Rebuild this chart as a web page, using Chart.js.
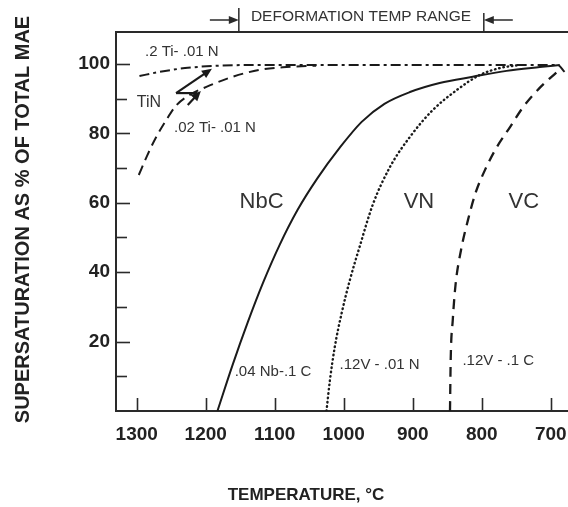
<!DOCTYPE html>
<html><head><meta charset="utf-8">
<script src="https://cdn.jsdelivr.net/npm/chart.js@4.4.1/dist/chart.umd.min.js"></script>
<style>html,body{margin:0;padding:0;background:#fff;overflow:hidden}#wrap{width:568px;height:507px;position:relative}</style>
</head><body><div id="wrap"><canvas id="c" width="568" height="507"></canvas></div>
<script>
// ---- data (temperature °C, supersaturation %) ----
const xTickValues = [1300, 1200, 1100, 1000, 900, 800, 700];
const yTickValues = [10, 20, 30, 40, 50, 60, 70, 80, 90, 100];
const yLabelValues = [20, 40, 60, 80, 100];

const tiHighT = [1296, 1267, 1230, 1191, 1122, 1000, 900, 800, 690, 680];
const tiHighV = [96.5, 97.7, 98.8, 99.4, 99.7, 99.7, 99.7, 99.7, 99.7, 97.7];

const tiLowT = [1297, 1285, 1274, 1257, 1242, 1223, 1199, 1161, 1122, 1083, 1040];
const tiLowV = [68.0, 73.5, 78.1, 83.9, 88.2, 91.1, 93.4, 96.3, 98.3, 99.1, 99.5];

const nbcT = [1183, 1161, 1139, 1117, 1093, 1067, 1038, 1006, 974, 941, 904, 861, 813, 764, 716, 687];
const nbcV = [0, 13.3, 25.6, 36.9, 47.8, 57.9, 67.1, 75.8, 83.3, 88.5, 91.9, 94.5, 96.3, 98.0, 99.1, 99.7];

const vnT = [1025, 1020, 1013, 1003, 991, 977, 958, 933, 904, 871, 836, 803, 774, 745];
const vnV = [0, 8.9, 18.4, 28.2, 37.8, 47.3, 59.4, 70.3, 79.0, 86.7, 92.5, 96.8, 98.8, 99.7];

const vcT = [846, 845, 842, 838, 830, 820, 809, 794, 778, 759, 741, 716, 691];
const vcV = [0, 14.7, 26.2, 36.3, 46.4, 55.0, 62.8, 70.0, 76.1, 81.8, 87.3, 93.1, 97.7];

const deformRange = [1152, 797];

// annotations: [text, T, value, size, align]
const noteTexts = [
  ['.2 Ti- .01 N', 1288, 103.5, 15, 'left'],
  ['TiN', 1300, 89, 16, 'left'],
  ['.02 Ti- .01 N', 1246, 81.5, 15, 'left'],
  ['NbC', 1119, 60.2, 22, 'center'],
  ['VN', 891, 60.2, 22, 'center'],
  ['VC', 739, 60.2, 22, 'center'],
  ['.04 Nb-.1 C', 1158, 11.3, 15, 'left'],
  ['.12V - .01 N', 1006, 13.3, 15, 'left'],
  ['.12V - .1 C', 828, 14.4, 15, 'left']
];
// arrows: [fromT, fromV, toT, toV, head]
const tinArrows = [
  [1243, 91.6, 1191, 98.6, true],
  [1243, 91.6, 1212, 91.6, false],
  [1226, 88.2, 1207, 92.2, true]
];

const FONT = '"Liberation Sans", Arial, Helvetica, sans-serif';
const pts = (T, V) => T.map((t, i) => ({x: t, y: V[i]}));

function arrowHead(ctx, x1, y1, x2, y2, len, w) {
  const a = Math.atan2(y2 - y1, x2 - x1);
  ctx.beginPath();
  ctx.moveTo(x2, y2);
  ctx.lineTo(x2 - len * Math.cos(a) + w * Math.sin(a), y2 - len * Math.sin(a) - w * Math.cos(a));
  ctx.lineTo(x2 - len * Math.cos(a) - w * Math.sin(a), y2 - len * Math.sin(a) + w * Math.cos(a));
  ctx.closePath();
  ctx.fill();
}

const decor = {
  id: 'decor',
  afterDraw(chart) {
    const ctx = chart.ctx, xs = chart.scales.x, ys = chart.scales.y, ca = chart.chartArea;
    ctx.save();
    ctx.strokeStyle = '#2a2a2a';
    ctx.fillStyle = '#2a2a2a';
    ctx.lineWidth = 2;
    // top frame line
    ctx.beginPath(); ctx.moveTo(ca.left - 1, ca.top); ctx.lineTo(ca.right + 2, ca.top); ctx.stroke();
    // inside ticks
    ctx.lineWidth = 1.6;
    xTickValues.forEach(v => {
      const px = Math.round(xs.getPixelForValue(v)) + 0.5;
      ctx.beginPath(); ctx.moveTo(px, ca.bottom); ctx.lineTo(px, ca.bottom - 13); ctx.stroke();
    });
    yTickValues.forEach(v => {
      const py = Math.round(ys.getPixelForValue(v)) + 0.5;
      const len = yLabelValues.includes(v) ? 14 : 11;
      ctx.beginPath(); ctx.moveTo(ca.left, py); ctx.lineTo(ca.left + len, py); ctx.stroke();
    });
    // deformation temp range
    ctx.lineWidth = 1.5;
    const xl = xs.getPixelForValue(deformRange[0]), xr = xs.getPixelForValue(deformRange[1]);
    ctx.beginPath(); ctx.moveTo(xl, 8); ctx.lineTo(xl, ca.top); ctx.stroke();
    ctx.beginPath(); ctx.moveTo(xr, 13); ctx.lineTo(xr, ca.top); ctx.stroke();
    const xlt = xs.getPixelForValue(1194), xrt = xs.getPixelForValue(755);
    ctx.beginPath(); ctx.moveTo(xlt, 20); ctx.lineTo(xl - 6, 20); ctx.stroke();
    arrowHead(ctx, xlt, 20, xl, 20, 10, 4);
    ctx.beginPath(); ctx.moveTo(xrt, 20); ctx.lineTo(xr + 6, 20); ctx.stroke();
    arrowHead(ctx, xrt, 20, xr, 20, 10, 4);
    ctx.fillStyle = '#333';
    ctx.font = '15.5px ' + FONT;
    ctx.textAlign = 'center'; ctx.textBaseline = 'middle';
    ctx.fillText('DEFORMATION TEMP RANGE', xs.getPixelForValue(975), 17);
    // TiN arrows
    ctx.strokeStyle = '#1a1a1a'; ctx.fillStyle = '#1a1a1a'; ctx.lineWidth = 2.2;
    tinArrows.forEach(a => {
      const x1 = xs.getPixelForValue(a[0]), y1 = ys.getPixelForValue(a[1]);
      const x2 = xs.getPixelForValue(a[2]), y2 = ys.getPixelForValue(a[3]);
      ctx.beginPath(); ctx.moveTo(x1, y1);
      if (a[4]) {
        const ang = Math.atan2(y2 - y1, x2 - x1);
        ctx.lineTo(x2 - 6 * Math.cos(ang), y2 - 6 * Math.sin(ang));
      } else ctx.lineTo(x2, y2);
      ctx.stroke();
      if (a[4]) arrowHead(ctx, x1, y1, x2, y2, 10, 4.5);
    });
    // annotation texts
    ctx.fillStyle = '#333';
    noteTexts.forEach(n => {
      ctx.font = n[3] + 'px ' + FONT;
      ctx.textAlign = n[4];
      ctx.textBaseline = 'middle';
      ctx.fillText(n[0], xs.getPixelForValue(n[1]), ys.getPixelForValue(n[2]));
    });
    // axis titles
    ctx.fillStyle = '#222';
    ctx.font = 'bold 17px ' + FONT;
    ctx.textAlign = 'center'; ctx.textBaseline = 'middle';
    ctx.fillText('TEMPERATURE, °C', 306, 495);
    ctx.translate(23, (ca.top + ca.bottom) / 2 - 2);
    ctx.rotate(-Math.PI / 2);
    ctx.font = 'bold 20px ' + FONT;
    ctx.fillText('SUPERSATURATION AS % OF TOTAL MAE', 0, 0);
    ctx.restore();
  }
};

const lineBase = {
  borderColor: '#1a1a1a', borderWidth: 2, pointRadius: 0, fill: false,
  cubicInterpolationMode: 'monotone'
};

new Chart(document.getElementById('c'), {
  type: 'line',
  data: {
    datasets: [
      Object.assign({}, lineBase, {label: '.2 Ti- .01 N', data: pts(tiHighT, tiHighV), borderDash: [10, 4, 3, 4]}),
      Object.assign({}, lineBase, {label: '.02 Ti- .01 N', data: pts(tiLowT, tiLowV), borderDash: [10, 6]}),
      Object.assign({}, lineBase, {label: '.04 Nb-.1 C', data: pts(nbcT, nbcV)}),
      Object.assign({}, lineBase, {label: '.12V - .01 N', data: pts(vnT, vnV), borderDash: [0.5, 3.8], borderCapStyle: 'round', borderWidth: 2.4}),
      Object.assign({}, lineBase, {label: '.12V - .1 C', data: pts(vcT, vcV), borderDash: [10, 7], borderWidth: 2.3})
    ]
  },
  options: {
    responsive: false, animation: false, devicePixelRatio: 1,
    layout: {padding: {top: 32, left: 0, right: 0, bottom: 0}},
    plugins: {legend: {display: false}, tooltip: {enabled: false}, title: {display: false}},
    scales: {
      x: {
        type: 'linear', reverse: true, min: 675, max: 1330,
        afterBuildTicks: s => { s.ticks = xTickValues.map(v => ({value: v})); },
        afterFit: s => { s.height = 96; s.paddingLeft = 0; s.paddingRight = 0; },
        grid: {display: false, drawTicks: false},
        border: {display: true, color: '#2a2a2a', width: 2},
        ticks: {padding: 12, autoSkip: false, maxRotation: 0, color: '#222',
          font: {family: FONT, size: 19, weight: 'bold'}, callback: v => String(v)}
      },
      y: {
        type: 'linear', min: 0, max: 109.2,
        afterBuildTicks: s => { s.ticks = yTickValues.map(v => ({value: v})); },
        afterFit: s => { s.width = 116; s.paddingTop = 0; s.paddingBottom = 0; },
        grid: {display: false, drawTicks: false},
        border: {display: true, color: '#2a2a2a', width: 2},
        ticks: {padding: 6, autoSkip: false, color: '#222',
          font: {family: FONT, size: 19, weight: 'bold'},
          callback: v => yLabelValues.includes(v) ? String(v) : ''}
      }
    }
  },
  plugins: [decor]
});
</script></body></html>
